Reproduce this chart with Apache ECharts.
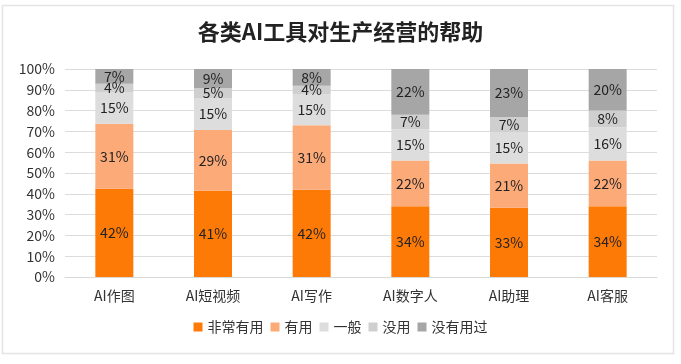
<!DOCTYPE html>
<html><head><meta charset="utf-8">
<script src="https://cdn.jsdelivr.net/npm/echarts@6/dist/echarts.min.js"></script>
<style>html,body{margin:0;padding:0;background:#fff;}#c{width:681px;height:364px;}</style>
</head><body><div id="c"></div>
<script>
const categories = ['AI作图','AI短视频','AI写作','AI数字人','AI助理','AI客服'];
const seriesNames = ['非常有用','有用','一般','没用','没有用过'];
const veryUseful = [42,41,42,34,33,34];
const useful = [31,29,31,22,21,22];
const average = [15,15,15,15,15,16];
const useless = [4,5,4,7,7,8];
const neverUsed = [7,9,8,22,23,20];
const yTicks = [0,10,20,30,40,50,60,70,80,90,100];
const colors = ['#FE7A07','#FDAA79','#DDDDDD','#CFCFCF','#A6A6A6'];

const raw = [veryUseful, useful, average, useless, neverUsed];
const totals = categories.map((_, i) => raw.reduce((s, a) => s + a[i], 0));
const chart = echarts.init(document.getElementById('c'));
chart.setOption({
  animation:false,
  title:{text:'各类AI工具对生产经营的帮助',left:'center',top:16,textStyle:{fontSize:22,fontWeight:'bold',color:'#222',fontFamily:'Noto Sans CJK SC'}},
  graphic:[{type:'rect',shape:{x:2.5,y:5.5,width:671,height:348},style:{fill:'none',stroke:'#e4e4e4',lineWidth:1.5},silent:true,z:-1}],
  legend:{bottom:25,itemWidth:9,itemHeight:9,itemGap:7,icon:'rect',textStyle:{fontSize:14,color:'#333',fontFamily:'Noto Sans CJK SC'},data:seriesNames},
  grid:{left:65,right:24,top:69,bottom:87},
  xAxis:{type:'category',data:categories,axisTick:{show:false},axisLine:{lineStyle:{color:'#d9d9d9'}},
    axisLabel:{fontSize:14,color:'#333',margin:12,fontFamily:'Noto Sans CJK SC'}},
  yAxis:{type:'value',min:yTicks[0],max:yTicks[yTicks.length-1],interval:10,
    axisLabel:{formatter:'{value}%',fontSize:14,color:'#333',margin:10,fontFamily:'Noto Sans CJK SC'},
    splitLine:{lineStyle:{color:'#dcdcdc'}},axisLine:{show:false},axisTick:{show:false}},
  series: seriesNames.map((name, si) => ({
    name, type:'bar', stack:'total', barWidth:38,
    itemStyle:{color:colors[si]},
    label:{show:true,position:'inside',fontSize:14,color:'#222',fontFamily:'Noto Sans CJK SC',
      formatter:p => raw[si][p.dataIndex] + '%'},
    data: raw[si].map((v, i) => v / totals[i] * 100)
  }))
});
</script></body></html>
